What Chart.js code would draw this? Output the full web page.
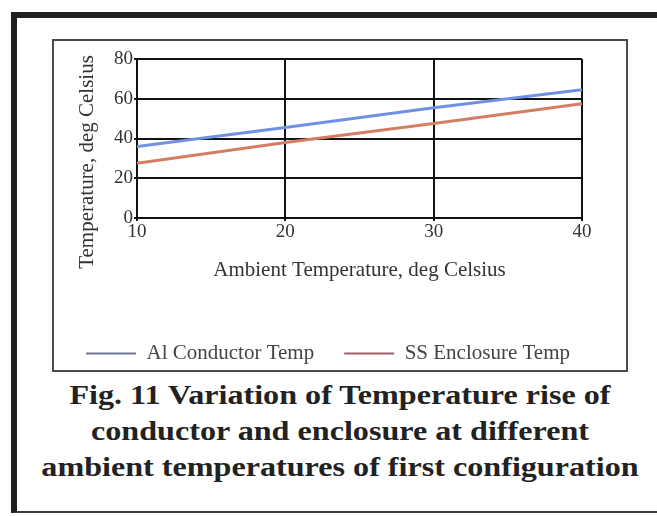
<!DOCTYPE html>
<html>
<head>
<meta charset="utf-8">
<script src="https://cdn.jsdelivr.net/npm/chart.js@4/dist/chart.umd.min.js"></script>
<style>
  html, body { margin: 0; padding: 0; background: #fff; }
  body { width: 657px; height: 516px; position: relative; overflow: hidden; font-family: "Liberation Serif", serif; }
  #frame { position: absolute; left: 11px; top: 12px; width: 646px; height: 501px; box-sizing: border-box;
           border-top: 6px solid #231f1c; border-left: 6px solid #231f1c; border-bottom: 2px solid #3a3a3a; }
  #box { position: absolute; left: 52px; top: 39px; width: 576px; height: 333px; box-sizing: border-box; border: 2px solid #4a4a4a; }
  #plot { position: absolute; left: 53px; top: 40px; width: 550px; height: 334px; }
  #caption { position: absolute; left: 40px; width: 600px; top: 377px; text-align: center; color: #222;
             font-weight: bold; font-size: 27px; line-height: 36px; transform: scaleX(1.19); transform-origin: 300px 0; }
</style>
</head>
<body>
<div id="frame"></div>
<div id="box"></div>
<div id="plot"><canvas id="chart"></canvas></div>
<div id="caption">Fig. 11 Variation of Temperature rise of<br>conductor and enclosure at different<br>ambient temperatures of first configuration</div>
<script>
// valores
var ambient = [10, 20, 30, 40];
var conductorTemp = [36, 45.5, 55.5, 64.5];
var enclosureTemp = [27.5, 38, 47.5, 57.5];
var seriesNames = ['Al Conductor Temp', 'SS Enclosure Temp'];
var xTicks = [10, 20, 30, 40];
var yTicks = [0, 20, 40, 60, 80];
var xTitle = 'Ambient Temperature, deg Celsius';
var yTitle = 'Temperature, deg Celsius';

var serif = '"Liberation Serif", "Times New Roman", serif';

function points(xs, ys){
  var out = [];
  for (var i = 0; i < xs.length; i++) out.push({x: xs[i], y: ys[i]});
  return out;
}

// titulo do eixo y desenhado a mao, fica mais baixo que o centro do grafico
var yTitlePlugin = {
  id: 'yTitle',
  afterDraw: function(chart){
    var ctx = chart.ctx;
    var area = chart.chartArea;
    ctx.save();
    ctx.translate(34, area.bottom - 56);
    ctx.rotate(-Math.PI / 2);
    ctx.font = '21px ' + serif;
    ctx.fillStyle = '#333';
    ctx.textAlign = 'center';
    ctx.textBaseline = 'middle';
    ctx.fillText(yTitle, 0, 0);
    ctx.restore();
  }
};

var legendColors = ['#6f7790', '#a0606a'];

new Chart(document.getElementById('chart'), {
  type: 'line',
  data: {
    datasets: [{
      label: seriesNames[0],
      data: points(ambient, conductorTemp),
      borderColor: '#7091e2',
      backgroundColor: '#7091e2',
      borderWidth: 3,
      pointRadius: 0,
      tension: 0
    }, {
      label: seriesNames[1],
      data: points(ambient, enclosureTemp),
      borderColor: '#d27d64',
      backgroundColor: '#d27d64',
      borderWidth: 3,
      pointRadius: 0,
      tension: 0
    }]
  },
  options: {
    responsive: true,
    maintainAspectRatio: false,
    animation: false,
    layout: { padding: { top: 19, right: 0, bottom: 0, left: 0 } },
    plugins: {
      tooltip: { enabled: false },
      legend: {
        position: 'bottom',
        labels: {
          font: { family: serif, size: 21 },
          color: '#444',
          boxWidth: 50,
          boxHeight: 2,
          padding: 30,
          generateLabels: function(chart){
            return chart.data.datasets.map(function(ds, i){
              return { text: ds.label, fillStyle: legendColors[i], strokeStyle: legendColors[i],
                       lineWidth: 0, datasetIndex: i, fontColor: '#444' };
            });
          }
        }
      }
    },
    scales: {
      x: {
        type: 'linear',
        min: 10, max: 40,
        afterBuildTicks: function(scale){ scale.ticks = xTicks.map(function(v){ return {value: v}; }); },
        grid: { color: '#111', lineWidth: 2, tickLength: 3 },
        border: { color: '#111', width: 2 },
        ticks: { font: { family: serif, size: 19 }, color: '#333', padding: 0, maxRotation: 0 },
        title: { display: true, text: xTitle, font: { family: serif, size: 21 }, color: '#333',
                 padding: { top: 14, bottom: 30 } }
      },
      y: {
        min: 0, max: 80,
        afterBuildTicks: function(scale){ scale.ticks = yTicks.map(function(v){ return {value: v}; }); },
        afterFit: function(scale){ scale.width = 84; },
        grid: { color: '#111', lineWidth: 2, tickLength: 3 },
        border: { color: '#111', width: 2 },
        ticks: { font: { family: serif, size: 19 }, color: '#333', padding: 1 }
      },
      // eixo vazio a direita so para reservar a margem
      yRight: {
        position: 'right',
        min: 0, max: 80,
        afterFit: function(scale){ scale.width = 21; },
        grid: { display: false },
        border: { display: false },
        ticks: { display: false }
      }
    }
  },
  plugins: [yTitlePlugin]
});
</script>
</body>
</html>
